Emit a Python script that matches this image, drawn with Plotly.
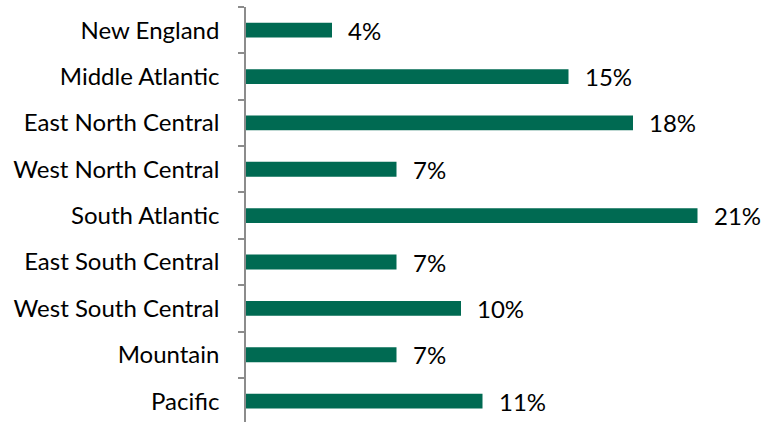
import plotly.graph_objects as go

regions = ["New England", "Middle Atlantic", "East North Central", "West North Central",
           "South Atlantic", "East South Central", "West South Central", "Mountain", "Pacific"]
shares = [4, 15, 18, 7, 21, 7, 10, 7, 11]
labels = [f"{v}%" for v in shares]

fig = go.Figure()
fig.add_trace(go.Bar(
    y=regions, x=shares, orientation="h",
    marker=dict(color="#006A52", line=dict(width=0)),
    width=0.32, hoverinfo="skip",
))
for r, v, t in zip(regions, shares, labels):
    fig.add_annotation(x=v, y=r, text=t, showarrow=False, xanchor="left",
                       xshift=14, font=dict(size=24, color="#000000"))

fig.update_layout(
    width=762, height=422,
    margin=dict(l=246, r=0, t=7, b=0),
    plot_bgcolor="white", paper_bgcolor="white",
    font=dict(family="Lato, Open Sans, sans-serif", size=24, color="#000000"),
    showlegend=False,
    xaxis=dict(range=[0, 24], visible=False, fixedrange=True),
    yaxis=dict(categoryorder="array", categoryarray=regions, range=[8.45, -0.5],
               showline=True, linecolor="#8c8c8c", linewidth=1.5,
               ticks="outside", ticklen=6, tickcolor="#8c8c8c", tickwidth=1.5,
               tickson="boundaries", ticklabelstandoff=20, showgrid=False,
               zeroline=False, fixedrange=True, automargin=False),
)
fig.write_html("out.html", config={"displayModeBar": False},
               post_script="document.body.style.margin='0';document.body.style.overflow='hidden';")
